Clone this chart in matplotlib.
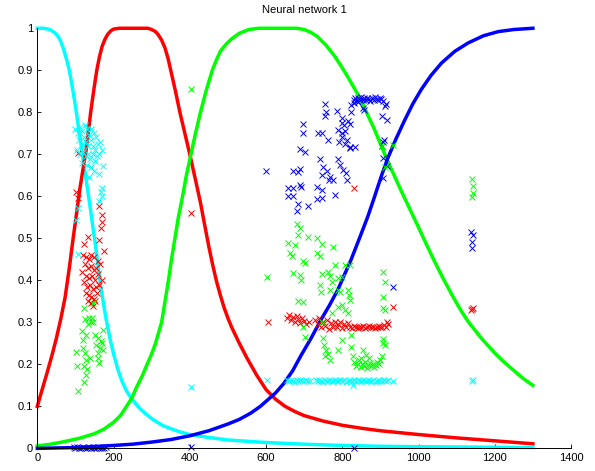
import matplotlib
matplotlib.use("Agg")
import matplotlib.pyplot as plt

plt.rcParams['font.family'] = ['Liberation Sans', 'DejaVu Sans']

# ---- network output curves ----
cyan_cx = [0, 15, 30, 42, 52, 60, 68, 77, 84, 90, 97, 104, 110, 117, 123, 128, 134, 140, 146, 152, 160,
           169, 180, 191, 200, 210, 222, 235, 250, 270, 285, 300, 315, 330, 350, 375, 400, 450, 500, 550,
           600, 650, 700, 800, 900, 1000, 1150, 1300]
cyan_cy = [1.0, 1.0, 0.998, 0.992, 0.984, 0.972, 0.953, 0.925, 0.9, 0.87, 0.832, 0.79, 0.752, 0.71, 0.672,
           0.64, 0.603, 0.565, 0.525, 0.487, 0.43, 0.37, 0.31, 0.26, 0.225, 0.192, 0.16, 0.135, 0.115, 0.094,
           0.082, 0.071, 0.062, 0.054, 0.047, 0.039, 0.033, 0.026, 0.02, 0.017, 0.014, 0.012, 0.01, 0.007,
           0.005, 0.004, 0.003, 0.002]

red_cx = [0, 12, 25, 38, 50, 62, 73, 84, 94, 103, 112, 120, 128, 134, 140, 148, 156, 163, 170, 178, 185,
          193, 200, 215, 250, 290, 300, 310, 317, 326, 335, 343, 350, 362, 374, 387, 400, 414, 428, 439,
          450, 460, 470, 480, 490, 500, 510, 530, 550, 575, 600, 625, 650, 675, 700, 750, 800, 850, 900,
          1000, 1100, 1200, 1300]
red_cy = [0.10, 0.138, 0.178, 0.22, 0.262, 0.31, 0.36, 0.43, 0.5, 0.56, 0.62, 0.665, 0.71, 0.755, 0.8,
          0.852, 0.9, 0.932, 0.957, 0.975, 0.986, 0.994, 0.998, 1.0, 1.0, 1.0, 0.997, 0.992, 0.985, 0.972,
          0.953, 0.928, 0.9, 0.852, 0.8, 0.75, 0.7, 0.643, 0.585, 0.532, 0.48, 0.437, 0.398, 0.365, 0.335,
          0.31, 0.288, 0.25, 0.215, 0.175, 0.14, 0.117, 0.1, 0.088, 0.078, 0.065, 0.055, 0.048, 0.042,
          0.033, 0.025, 0.018, 0.011]

green_cx = [0, 35, 70, 110, 150, 175, 200, 218, 234, 248, 260, 275, 288, 300, 310, 318, 326, 335, 344, 352,
            361, 370, 381, 391, 403, 415, 428, 443, 459, 470, 480, 495, 510, 530, 555, 580, 600, 680, 700,
            718, 735, 757, 779, 797, 814, 831, 849, 866, 884, 900, 916, 935, 955, 976, 998, 1020, 1042,
            1066, 1091, 1110, 1130, 1165, 1200, 1225, 1253, 1275, 1300]
green_cy = [0.006, 0.01, 0.016, 0.024, 0.035, 0.046, 0.062, 0.078, 0.1, 0.12, 0.145, 0.172, 0.2, 0.225,
            0.25, 0.275, 0.3, 0.35, 0.4, 0.45, 0.5, 0.55, 0.6, 0.65, 0.7, 0.75, 0.8, 0.852, 0.9, 0.925,
            0.945, 0.962, 0.975, 0.988, 0.997, 1.0, 1.0, 1.0, 0.997, 0.99, 0.98, 0.96, 0.935, 0.91, 0.885,
            0.858, 0.83, 0.795, 0.76, 0.725, 0.69, 0.652, 0.612, 0.572, 0.53, 0.487, 0.445, 0.402, 0.36,
            0.33, 0.302, 0.262, 0.227, 0.205, 0.183, 0.166, 0.15]

blue_cx = [0, 100, 200, 250, 300, 350, 400, 450, 500, 530, 560, 585, 600, 625, 647, 670, 691, 718, 744,
           766, 788, 805, 823, 845, 867, 885, 902, 919, 940, 963, 985, 1007, 1033, 1060, 1095, 1130, 1170,
           1209, 1250, 1300]
blue_cy = [0.0, 0.002, 0.007, 0.01, 0.015, 0.021, 0.03, 0.042, 0.058, 0.069, 0.084, 0.1, 0.112, 0.132,
           0.155, 0.185, 0.22, 0.262, 0.306, 0.34, 0.377, 0.412, 0.449, 0.5, 0.552, 0.6, 0.647, 0.69, 0.735,
           0.78, 0.82, 0.854, 0.888, 0.917, 0.945, 0.965, 0.982, 0.992, 0.997, 1.0]

# ---- classified samples (x markers) ----
red_px = [106, 101, 108, 163, 169, 171, 168, 134, 122, 163, 176,
          120, 128, 135, 142, 150, 158, 125, 133, 140, 148, 155, 165, 118, 127, 136, 144, 152, 160,
          122, 130, 138, 146, 154, 162, 170, 128, 136, 142, 150, 157, 134, 140, 146, 152,
          404, 604, 830, 933,
          655, 660, 665, 670, 675, 680, 685, 690, 695, 700, 705, 712,
          729, 735, 740, 745, 750, 755, 760, 765, 770, 775, 780, 785, 790, 795, 800, 805, 810, 815,
          820, 825, 830, 835, 840, 845, 850, 855, 860, 865, 870, 875, 880, 885, 890, 895, 900, 905,
          910, 915, 920, 918,
          1140, 1142, 1138]
red_py = [0.703, 0.611, 0.596, 0.576, 0.556, 0.54, 0.525, 0.504, 0.486, 0.496, 0.47,
          0.46, 0.455, 0.45, 0.46, 0.455, 0.445, 0.44, 0.43, 0.435, 0.425, 0.43, 0.44, 0.42, 0.41,
          0.405, 0.41, 0.4, 0.415, 0.395, 0.385, 0.39, 0.38, 0.385, 0.39, 0.4, 0.37, 0.365, 0.36,
          0.355, 0.37, 0.35, 0.345, 0.34, 0.35,
          0.56, 0.30, 0.62, 0.336,
          0.31, 0.318, 0.305, 0.312, 0.3, 0.315, 0.308, 0.298, 0.31, 0.303, 0.295, 0.3,
          0.305, 0.295, 0.31, 0.288, 0.3, 0.292, 0.305, 0.285, 0.298, 0.29, 0.302, 0.288, 0.295, 0.3,
          0.286, 0.295, 0.29, 0.298,
          0.29, 0.287, 0.292, 0.289, 0.286, 0.29, 0.288, 0.291, 0.287, 0.289, 0.292, 0.288, 0.29,
          0.286, 0.289, 0.291, 0.288, 0.29, 0.293, 0.289, 0.295, 0.3,
          0.332, 0.335, 0.33]

blue_px = [95, 100, 105, 110, 115, 120, 125, 130, 135, 140, 145, 150, 155, 160, 165, 170, 175, 180,
           404, 831,
           601, 671, 657, 671, 657, 671, 690, 693, 684, 688, 684, 680, 711, 689, 702, 697, 697, 737, 747,
           741, 750, 760, 768, 746, 733, 746, 746, 733, 780, 776, 765, 763, 754, 754, 758, 787, 798, 798,
           789, 800, 807, 805, 815, 820, 798, 808, 820, 813, 791, 811, 813, 789, 795, 802, 820, 833, 824,
           824, 855, 858, 912, 914, 904, 916, 907, 909, 903, 907, 916, 907, 933,
           830, 834, 838, 842, 846, 850, 854, 858, 862, 866, 870, 874, 878, 882, 886, 890, 894, 898,
           902, 906, 832, 840,
           1137, 1142, 1140, 1139]
blue_py = [0.003, 0.001, 0.004, 0.002, 0.0, 0.003, 0.001, 0.002, 0.004, 0.001, 0.003, 0.0, 0.002, 0.004,
           0.001, 0.002, 0.0, 0.003,
           0.004, 0.001,
           0.661, 0.661, 0.62, 0.62, 0.6, 0.6, 0.628, 0.622, 0.658, 0.665, 0.582, 0.564, 0.577, 0.712,
           0.706, 0.772, 0.75, 0.75, 0.75, 0.69, 0.67, 0.66, 0.647, 0.65, 0.622, 0.615, 0.596, 0.593,
           0.603, 0.639, 0.639, 0.734, 0.79, 0.82, 0.80, 0.802, 0.787, 0.775, 0.758, 0.75, 0.755, 0.77,
           0.78, 0.772, 0.74, 0.725, 0.715, 0.735, 0.73, 0.655, 0.64, 0.69, 0.675, 0.663, 0.718, 0.718,
           0.8, 0.818, 0.81, 0.805, 0.814, 0.82, 0.79, 0.782, 0.73, 0.735, 0.719, 0.691, 0.671, 0.643,
           0.385,
           0.83, 0.835, 0.828, 0.833, 0.83, 0.836, 0.829, 0.833, 0.83, 0.835, 0.831, 0.828, 0.834, 0.83,
           0.836, 0.832, 0.829, 0.834, 0.831, 0.828, 0.822, 0.825,
           0.516, 0.508, 0.492, 0.478]

green_px = [147, 122, 125, 143, 146, 133, 173, 151, 160, 168, 155, 165, 172, 158, 170, 121, 101, 125, 127,
            123, 138, 105, 163, 160, 129, 122, 108, 130, 120, 135, 140, 118, 128,
            404, 603,
            680, 690, 684, 711, 658, 677, 663, 669, 733, 746, 733, 742, 776, 697, 702, 671, 689, 691, 781,
            746, 763, 768, 773, 798, 807, 820, 790, 741, 743, 768, 789, 794, 815, 820, 818, 684, 697, 907,
            911, 907, 906, 911, 799, 808, 815, 790, 772, 746, 697, 702, 750, 752, 758, 762, 768, 755, 789,
            798, 824, 824, 828, 855, 907, 911, 903, 907, 933, 912, 903,
            832, 836, 840, 844, 848, 852, 856, 860, 864, 868, 872, 876, 880, 884, 888, 892, 896, 900,
            850, 862, 870,
            1140, 1142, 1143, 1139]
green_py = [0.346, 0.334, 0.307, 0.31, 0.3, 0.295, 0.282, 0.27, 0.262, 0.255, 0.245, 0.24, 0.235, 0.228,
            0.25, 0.258, 0.23, 0.227, 0.21, 0.195, 0.214, 0.195, 0.203, 0.215, 0.175, 0.159, 0.137, 0.19,
            0.24, 0.31, 0.3, 0.28, 0.27,
            0.855, 0.409,
            0.535, 0.524, 0.508, 0.504, 0.489, 0.485, 0.465, 0.459, 0.5, 0.487, 0.465, 0.459, 0.48, 0.445,
            0.441, 0.417, 0.413, 0.401, 0.437, 0.415, 0.42, 0.41, 0.397, 0.409, 0.437, 0.437, 0.405,
            0.389, 0.373, 0.376, 0.377, 0.372, 0.377, 0.354, 0.365, 0.35, 0.348, 0.421, 0.395, 0.361,
            0.334, 0.33, 0.342, 0.33, 0.323, 0.336, 0.322, 0.302, 0.29, 0.266, 0.262, 0.246, 0.235, 0.225,
            0.211, 0.219, 0.235, 0.258, 0.242, 0.27, 0.221, 0.235, 0.25, 0.245, 0.219, 0.26, 0.723, 0.67,
            0.72,
            0.205, 0.195, 0.2, 0.21, 0.193, 0.2, 0.197, 0.205, 0.192, 0.198, 0.203, 0.195, 0.2, 0.193,
            0.198, 0.205, 0.2, 0.21, 0.215, 0.222, 0.215,
            0.642, 0.625, 0.609, 0.599]

cyan_px = [100, 106, 112, 118, 124, 130, 136, 142, 148, 154, 110, 116, 122, 128, 134, 140, 146, 152, 158,
           164, 105, 113, 120, 127, 133, 139, 145, 151, 157, 163, 170, 118, 130, 142, 150,
           173, 163, 136, 171, 170, 168, 163, 108, 101, 108, 403, 602,
           655, 660, 665, 670, 675, 680, 685, 690, 695, 700, 705, 710, 715,
           730, 735, 740, 745, 750, 755, 760, 765, 770, 775, 780, 785, 790, 795, 800, 805, 810, 815,
           820, 825, 829, 830, 835, 840, 845, 850, 855, 860, 865, 870, 875, 880, 885, 890, 895, 900,
           905, 910, 915, 920, 933,
           1140, 1142]
cyan_py = [0.76, 0.75, 0.765, 0.755, 0.77, 0.76, 0.745, 0.76, 0.75, 0.74, 0.735, 0.725, 0.74, 0.73, 0.72,
           0.735, 0.72, 0.71, 0.725, 0.73, 0.71, 0.7, 0.705, 0.695, 0.7, 0.69, 0.7, 0.685, 0.695, 0.7,
           0.71, 0.68, 0.675, 0.67, 0.66,
           0.671, 0.653, 0.645, 0.62, 0.6, 0.61, 0.59, 0.572, 0.544, 0.463, 0.146, 0.163,
           0.162, 0.16, 0.163, 0.161, 0.159, 0.162, 0.16, 0.163, 0.161, 0.16, 0.162, 0.16, 0.161,
           0.162, 0.16, 0.163, 0.161, 0.159, 0.162, 0.16, 0.163, 0.161, 0.16, 0.162, 0.16, 0.161, 0.163,
           0.16, 0.162, 0.159, 0.161, 0.163, 0.16, 0.151, 0.162, 0.16, 0.161, 0.163, 0.16, 0.162, 0.16,
           0.161, 0.163, 0.16, 0.162, 0.159, 0.161, 0.162, 0.16, 0.161, 0.163, 0.16, 0.162, 0.161,
           0.16, 0.162]

xticks = [0, 200, 400, 600, 800, 1000, 1200, 1400]
yticks = [0, 0.1, 0.2, 0.3, 0.4, 0.5, 0.6, 0.7, 0.8, 0.9, 1]
ytick_labels = ['0', '0.1', '0.2', '0.3', '0.4', '0.5', '0.6', '0.7', '0.8', '0.9', '1']

fig = plt.figure(figsize=(5.95, 4.71), dpi=100)
ax = fig.add_axes([0.0627, 0.048, 0.897, 0.892])

# curves first, samples on top
for cx, cy, col in [(cyan_cx, cyan_cy, 'cyan'), (red_cx, red_cy, 'red'),
                    (green_cx, green_cy, 'lime'), (blue_cx, blue_cy, 'blue')]:
    ax.plot(cx, cy, '-', color=col, lw=2.5, clip_on=False, solid_joinstyle='round')

for px, py, col in [(red_px, red_py, 'red'), (blue_px, blue_py, 'blue'),
                    (green_px, green_py, 'lime'), (cyan_px, cyan_py, 'cyan')]:
    ax.plot(px, py, 'x', color=col, ms=4, mew=0.7, ls='none', clip_on=False)

ax.set_xlim(0, 1400)
ax.set_ylim(0, 1)
ax.set_xticks(xticks)
ax.set_yticks(yticks)
ax.set_yticklabels(ytick_labels)
ax.tick_params(direction='in', length=3, width=0.6, labelsize=8, pad=3)
ax.spines['top'].set_visible(False)
ax.spines['right'].set_visible(False)
ax.spines['left'].set_linewidth(0.7)
ax.spines['bottom'].set_linewidth(0.7)
ax.set_title('Neural network 1', fontsize=8, pad=11)

fig.savefig('out.png', dpi=100)
